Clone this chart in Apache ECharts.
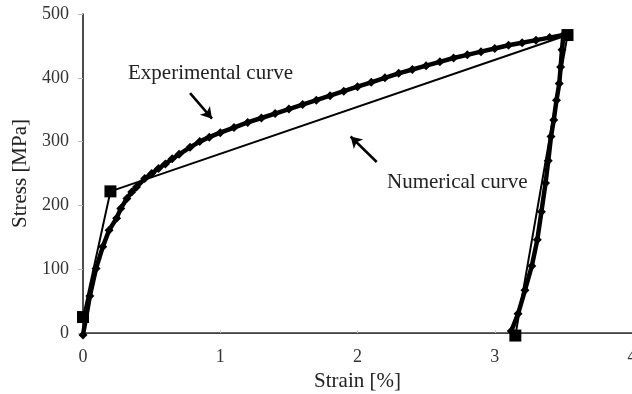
<!DOCTYPE html>
<html><head><meta charset="utf-8">
<script src="https://cdn.jsdelivr.net/npm/echarts@6/dist/echarts.min.js"></script>
<style>html,body{margin:0;padding:0;background:#fff}#c{width:632px;height:394px}</style>
</head><body><div id="c"></div>
<script>
// Experimental curve (strain %, stress MPa) - loading then unloading
const expStrain = [0, 0.05, 0.095, 0.144, 0.19, 0.245, 0.275, 0.32, 0.355, 0.39, 0.45, 0.5, 0.55, 0.6, 0.65, 0.7, 0.78, 0.85, 0.92, 1.0, 1.1, 1.2, 1.3, 1.4, 1.5, 1.6, 1.7, 1.8, 1.9, 2.0, 2.1, 2.2, 2.3, 2.4, 2.5, 2.6, 2.7, 2.8, 2.9, 3.0, 3.1, 3.2, 3.3, 3.4, 3.5,
  3.49, 3.48, 3.47, 3.45, 3.43, 3.41, 3.39, 3.37, 3.34, 3.31, 3.27, 3.22, 3.17, 3.12, 3.08];
const expStress = [-3, 58, 101, 135, 161, 180, 195, 211, 221, 229, 242, 250, 258, 265, 273, 280, 291, 300, 307, 314, 322, 330, 337, 344, 351, 358, 365, 372, 379, 386, 393, 400, 407, 413, 419, 425, 431, 436, 441, 446, 451, 455, 459, 463, 467,
  444, 417, 391, 365, 334, 308, 270, 235, 190, 146, 105, 67, 30, 3];
// Numerical curve
const numStrain = [0, 0.2, 3.53, 3.15];
const numStress = [25, 222, 467, -4];
// Axis ticks
const xTicks = [0, 1, 2, 3, 4];
const yTicks = [0, 100, 200, 300, 400, 500];

const expData = expStrain.map((x, i) => [x, expStress[i]]);
const numData = numStrain.map((x, i) => [x, numStress[i]]);
const font = 'Liberation Serif';

const chart = echarts.init(document.getElementById('c'));
chart.setOption({
  animation: false,
  backgroundColor: '#fff',
  grid: {left: 83, top: 14, right: 0, bottom: 61, containLabel: false, outerBoundsMode: 'none'},
  xAxis: [{
    type: 'value', min: xTicks[0], max: xTicks[xTicks.length - 1], interval: 1,
    name: 'Strain [%]', nameLocation: 'middle', nameGap: 38,
    nameTextStyle: {fontFamily: font, fontSize: 21, color: '#222'},
    axisLine: {onZero: false, lineStyle: {color: '#333', width: 1.5}},
    axisTick: {show: true, inside: true, length: 3, lineStyle: {color: '#ccc'}},
    axisLabel: {fontFamily: font, fontSize: 18, color: '#333', margin: 15, hideOverlap: false},
    splitLine: {show: false}
  }, {
    type: 'value', position: 'top', min: 0, max: 4,
    axisLine: {show: true, lineStyle: {color: '#444', width: 1.2}},
    axisTick: {show: false}, axisLabel: {show: false}, splitLine: {show: false}
  }],
  yAxis: {
    type: 'value', min: yTicks[0], max: yTicks[yTicks.length - 1], interval: 100,
    name: 'Stress [MPa]', nameLocation: 'middle', nameGap: 48,
    nameTextStyle: {fontFamily: font, fontSize: 21, color: '#222'},
    axisLine: {show: true, onZero: false, lineStyle: {color: '#111', width: 1.5}},
    axisTick: {show: true, length: 5, lineStyle: {color: '#bbb'}},
    axisLabel: {fontFamily: font, fontSize: 18, color: '#333', margin: 14},
    splitLine: {show: false}
  },
  series: [{
    type: 'line', name: 'Experimental', data: expData, clip: false,
    symbol: 'diamond', symbolSize: 9, showAllSymbol: true,
    lineStyle: {color: '#000', width: 4.5},
    itemStyle: {color: '#000'},
    markLine: {
      silent: true, symbol: ['none', 'arrow'], symbolSize: [10, 11],
      label: {show: false},
      lineStyle: {color: '#000', width: 2.5, type: 'solid'},
      data: [
        [{coord: [0.78, 376]}, {coord: [0.94, 336]}],
        [{coord: [2.14, 268]}, {coord: [1.95, 308]}]
      ]
    }
  }, {
    type: 'line', name: 'Numerical', data: numData, clip: false,
    symbol: 'rect', symbolSize: 12, showAllSymbol: true,
    lineStyle: {color: '#000', width: 2},
    itemStyle: {color: '#000'}
  }],
  graphic: [
    {type: 'text', left: 128, top: 63, style: {text: 'Experimental curve', font: '21px "Liberation Serif"', fill: '#222'}},
    {type: 'text', left: 387, top: 172, style: {text: 'Numerical curve', font: '21px "Liberation Serif"', fill: '#222'}}
  ]
});
</script></body></html>
